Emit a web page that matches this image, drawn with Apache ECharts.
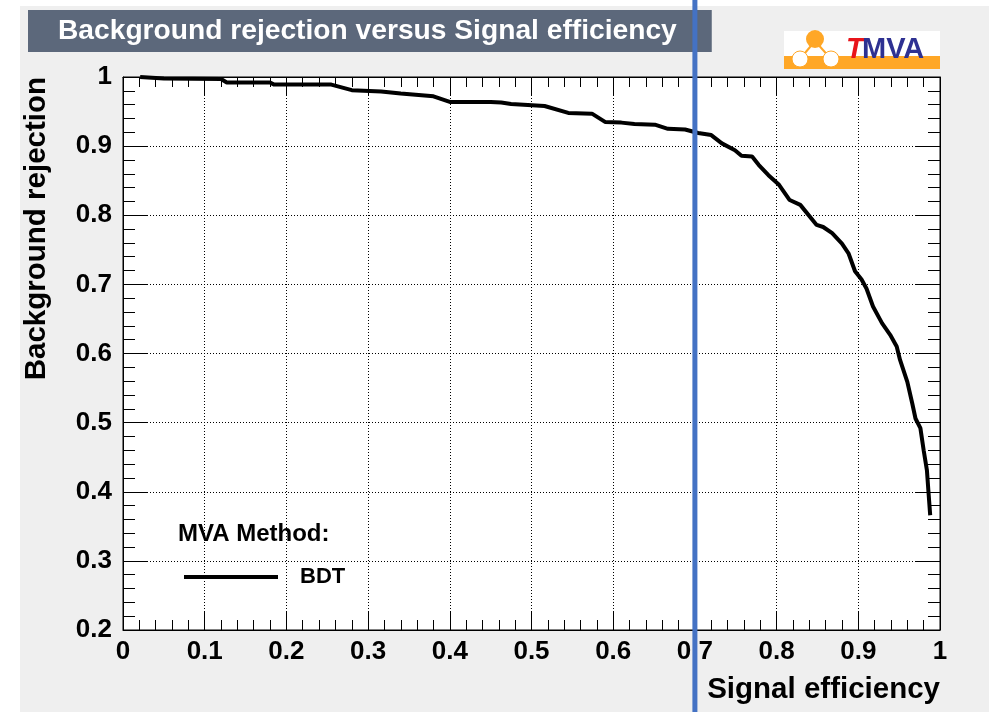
<!DOCTYPE html>
<html>
<head>
<meta charset="utf-8">
<script src="https://cdn.jsdelivr.net/npm/echarts@6/dist/echarts.min.js"></script>
<style>
html,body{margin:0;padding:0;background:#fff;}
#bg{position:absolute;left:20px;top:6px;width:969px;height:706px;background:#efefef;}
#c{position:absolute;left:0;top:0;width:994px;height:712px;}
</style>
</head>
<body>
<div id="bg"></div>
<div id="c"></div>
<script>
// ---- data ----
const titleText = 'Background rejection versus Signal efficiency';
const xAxisName = 'Signal efficiency';
const yAxisName = 'Background rejection';
const legendTitle = 'MVA Method:';
const seriesName = 'BDT';
const signalEff = [0.021,0.05,0.12,0.127,0.18,0.185,0.255,0.28,0.316,0.34,0.38,0.40,0.45,0.463,0.475,0.516,0.545,0.574,0.59,0.61,0.626,0.651,0.667,0.688,0.704,0.72,0.733,0.749,0.757,0.77,0.778,0.79,0.803,0.816,0.829,0.849,0.857,0.868,0.880,0.888,0.896,0.904,0.910,0.918,0.929,0.939,0.947,0.951,0.960,0.966,0.970,0.976,0.980,0.984,0.986,0.988];
const bkgRej = [1.0,0.998,0.997,0.992,0.992,0.989,0.989,0.981,0.979,0.976,0.972,0.964,0.964,0.963,0.961,0.958,0.948,0.947,0.935,0.934,0.932,0.931,0.925,0.924,0.919,0.916,0.904,0.894,0.886,0.885,0.873,0.858,0.844,0.822,0.815,0.786,0.783,0.774,0.759,0.745,0.719,0.707,0.694,0.668,0.644,0.627,0.610,0.591,0.559,0.528,0.506,0.492,0.460,0.431,0.398,0.366];
const xTickLabels = ['0','0.1','0.2','0.3','0.4','0.5','0.6','0.7','0.8','0.9','1'];
const yTickLabels = ['0.2','0.3','0.4','0.5','0.6','0.7','0.8','0.9','1'];
const markerX = 0.7;

const FONT = 'Liberation Sans';
const chart = echarts.init(document.getElementById('c'), null, {renderer:'canvas'});

function fmt(labels, min){ return function(v){ const i = Math.round((v - min) * 10); return labels[i] !== undefined ? labels[i] : ''; }; }

const baseX = {
  type:'value', min:0, max:1, interval:0.1,
  axisLine:{show:true, onZero:false, lineStyle:{color:'#000', width:1}},
  axisTick:{show:true, inside:true, length:18, lineStyle:{color:'#000', width:1}},
  minorTick:{show:true, splitNumber:5, length:10, lineStyle:{color:'#000', width:1}},
  splitLine:{show:false}
};
const baseY = {
  type:'value', min:0.2, max:1, interval:0.1,
  axisLine:{show:true, onZero:false, lineStyle:{color:'#000', width:1}},
  axisTick:{show:true, inside:true, length:24, lineStyle:{color:'#000', width:1}},
  minorTick:{show:true, splitNumber:5, length:12, lineStyle:{color:'#000', width:1}},
  splitLine:{show:false}
};

const option = {
  animation:false,
  backgroundColor:'transparent',
  title:{
    text:titleText, left:28, top:10,
    backgroundColor:'#5c687b',
    padding:[7,35,7,30],
    textStyle:{color:'#fff', fontFamily:FONT, fontWeight:'bold', fontSize:28.2}
  },
  grid:{left:123, right:54, top:77, bottom:82, show:true, backgroundColor:'#fff', borderColor:'#000', borderWidth:1},
  legend:{
    data:[seriesName], left:179, top:561, icon:'rect', itemWidth:94, itemHeight:4,
    textStyle:{color:'#000', fontFamily:FONT, fontWeight:'bold', fontSize:22, padding:[0,0,0,17]}
  },
  xAxis:[
    Object.assign({}, baseX, {
      position:'bottom',
      name:xAxisName, nameLocation:'end', nameGap:0,
      nameTextStyle:{color:'#000', fontFamily:FONT, fontWeight:'bold', fontSize:29.5, align:'right', verticalAlign:'top', padding:[45,0,0,0]},
      axisLabel:{show:true, color:'#000', fontFamily:FONT, fontWeight:'bold', fontSize:26, margin:9, formatter:fmt(xTickLabels,0)},
      splitLine:{show:true, lineStyle:{color:'#000', width:1, type:[1,2]}}
    }),
    Object.assign({}, baseX, {position:'top', axisLabel:{show:false}})
  ],
  yAxis:[
    Object.assign({}, baseY, {
      position:'left',
      name:yAxisName, nameLocation:'end', nameGap:0, nameRotate:90,
      nameTextStyle:{color:'#000', fontFamily:FONT, fontWeight:'bold', fontSize:29.5, align:'right', verticalAlign:'bottom', padding:[0,0,71,0]},
      axisLabel:{show:true, color:'#000', fontFamily:FONT, fontWeight:'bold', fontSize:26, margin:11, formatter:fmt(yTickLabels,0.2)},
      splitLine:{show:true, lineStyle:{color:'#000', width:1, type:[1,2]}}
    }),
    Object.assign({}, baseY, {position:'right', axisLabel:{show:false}})
  ],
  series:[{
    name:seriesName, type:'line', xAxisIndex:0, yAxisIndex:0,
    data:signalEff.map((s,i)=>[s,bkgRej[i]]),
    showSymbol:false, symbol:'none',
    lineStyle:{color:'#000', width:4}, itemStyle:{color:'#000'}
  }],
  graphic:[]
};
chart.setOption(option);

const px = chart.convertToPixel({xAxisIndex:0}, markerX);
chart.setOption({graphic:[
  {type:'text', left:178, top:522, style:{text:legendTitle, fill:'#000', font:'bold 24px "Liberation Sans"'}},
  {type:'group', left:784, top:30, children:[
    {type:'rect', shape:{x:0,y:0,width:156,height:38}, style:{fill:'#fff'}},
    {type:'rect', shape:{x:0,y:25,width:156,height:13}, style:{fill:'#ffa726'}},
    {type:'line', shape:{x1:16,y1:28,x2:31,y2:10}, style:{stroke:'#ffa726', lineWidth:2}},
    {type:'line', shape:{x1:47,y1:28,x2:31,y2:10}, style:{stroke:'#ffa726', lineWidth:2}},
    {type:'circle', shape:{cx:31,cy:8,r:9}, style:{fill:'#ffa726'}},
    {type:'circle', shape:{cx:16,cy:28,r:8}, style:{fill:'#fff', stroke:'#ffa726', lineWidth:1}},
    {type:'circle', shape:{cx:47,cy:28,r:8}, style:{fill:'#fff', stroke:'#ffa726', lineWidth:1}},
    {type:'text', x:62, y:4, style:{text:'T', fill:'#e8141b', font:'italic bold 29px "Liberation Sans"'}},
    {type:'text', x:78, y:4, style:{text:'MVA', fill:'#2e3192', font:'bold 29px "Liberation Sans"'}}
  ]},
  {type:'line', z:100, shape:{x1:px, y1:0, x2:px, y2:712}, style:{stroke:'#4472c4', lineWidth:5}}
]});
</script>
</body>
</html>
